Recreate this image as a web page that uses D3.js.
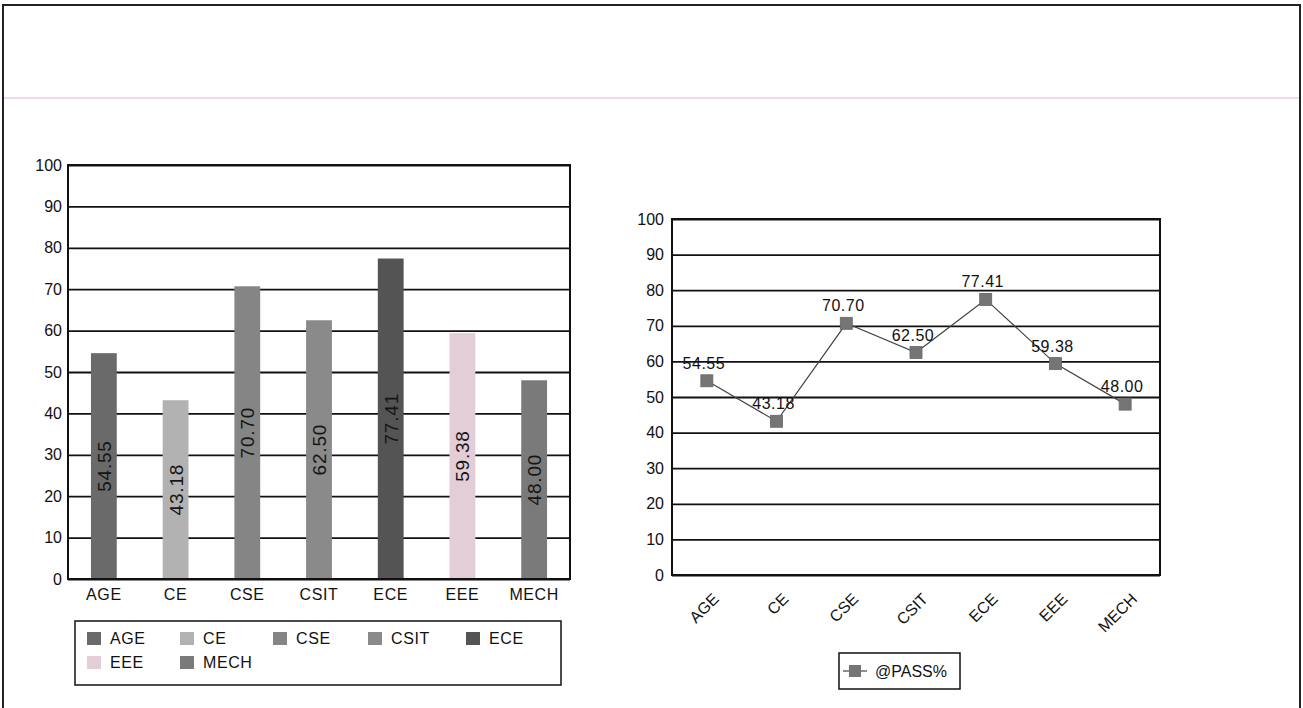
<!DOCTYPE html>
<html><head><meta charset="utf-8">
<script src="https://cdn.jsdelivr.net/npm/d3@7"></script>
<style>
body{margin:0;background:#fff;}
svg{display:block;font-family:"Liberation Sans",Arial,sans-serif;}
</style></head>
<body>
<svg id="c" width="1303" height="708"></svg>
<script>
const categories = ["AGE","CE","CSE","CSIT","ECE","EEE","MECH"];
const passValues = [54.55,43.18,70.70,62.50,77.41,59.38,48.00];
const yTicks = [0,10,20,30,40,50,60,70,80,90,100];
const barColors = ["#6a6a6a","#b2b2b2","#858585","#8a8a8a","#545454","#e3cdd6","#7a7a7a"];
const seriesName = "@PASS%";

const FONT = "Liberation Sans, Arial, sans-serif";
const svg = d3.select("#c");
// outer frame
svg.append("rect").attr("x",3).attr("y",5).attr("width",1297).attr("height",706)
  .attr("fill","#fff").attr("stroke","#222").attr("stroke-width",2);
svg.append("line").attr("x1",4).attr("x2",1299).attr("y1",98).attr("y2",98)
  .attr("stroke","#f0c8e8").attr("stroke-width",1.5);

// ---------- Left bar chart ----------
const L = {x0:68, x1:570, y0:165, y1:579};
const xb = d3.scaleBand().domain(categories).range([L.x0,L.x1]).paddingInner(0.64).paddingOuter(0.32);
const yb = d3.scaleLinear().domain([0,100]).range([L.y1,L.y0]);
const gL = svg.append("g");
gL.append("g").attr("transform",`translate(${L.x0},0)`)
  .call(d3.axisLeft(yb).tickValues(yTicks).tickSize(-(L.x1-L.x0)).tickPadding(6))
  .call(g=>{g.select(".domain").remove();
    g.selectAll(".tick line").attr("stroke","#111").attr("stroke-width",1.8);
    g.selectAll(".tick text").attr("font-size",16).attr("fill","#111").attr("font-family",FONT);});
gL.selectAll("rect.bar").data(categories).join("rect").attr("class","bar")
  .attr("x",d=>xb(d)).attr("width",xb.bandwidth())
  .attr("y",(d,i)=>yb(passValues[i])).attr("height",(d,i)=>yb(0)-yb(passValues[i]))
  .attr("fill",(d,i)=>barColors[i]);
gL.selectAll("text.vl").data(categories).join("text").attr("class","vl")
  .attr("transform",(d,i)=>`translate(${xb(d)+xb.bandwidth()/2+7},${(yb(passValues[i])+yb(0))/2}) rotate(-90)`)
  .attr("text-anchor","middle").attr("font-size",19).attr("letter-spacing",0.8).attr("fill","#151515")
  .text((d,i)=>passValues[i].toFixed(2));
gL.append("rect").attr("x",L.x0).attr("y",L.y0).attr("width",L.x1-L.x0).attr("height",L.y1-L.y0)
  .attr("fill","none").attr("stroke","#111").attr("stroke-width",2);
gL.append("g").attr("transform",`translate(0,${L.y1})`)
  .call(d3.axisBottom(xb).tickSize(0).tickPadding(10))
  .call(g=>{g.select(".domain").remove();
    g.selectAll(".tick text").attr("font-size",16).attr("letter-spacing",0.6).attr("fill","#111").attr("font-family",FONT);});
// legend
const lg = svg.append("g");
lg.append("rect").attr("x",75).attr("y",621).attr("width",486).attr("height",64)
  .attr("fill","#fff").attr("stroke","#111").attr("stroke-width",1.5);
const legPos = [[87,631],[180,631],[273,631],[368,631],[466,631],[87,655],[180,655]];
categories.forEach((c,i)=>{
  lg.append("rect").attr("x",legPos[i][0]).attr("y",legPos[i][1]+1).attr("width",14).attr("height",13).attr("fill",barColors[i]);
  lg.append("text").attr("x",legPos[i][0]+23).attr("y",legPos[i][1]+13).attr("font-size",16).attr("letter-spacing",0.6).attr("fill","#111").text(c);
});

// ---------- Right line chart ----------
const R = {x0:672, x1:1160, y0:219, y1:575};
const xl = d3.scaleBand().domain(categories).range([R.x0,R.x1]);
const yl = d3.scaleLinear().domain([0,100]).range([R.y1,R.y0]);
const gR = svg.append("g");
gR.append("g").attr("transform",`translate(${R.x0},0)`)
  .call(d3.axisLeft(yl).tickValues(yTicks).tickSize(-(R.x1-R.x0)).tickPadding(8))
  .call(g=>{g.select(".domain").remove();
    g.selectAll(".tick line").attr("stroke","#111").attr("stroke-width",1.8);
    g.selectAll(".tick text").attr("font-size",16).attr("fill","#111").attr("font-family",FONT);});
gR.append("rect").attr("x",R.x0).attr("y",R.y0).attr("width",R.x1-R.x0).attr("height",R.y1-R.y0)
  .attr("fill","none").attr("stroke","#111").attr("stroke-width",2);
const line = d3.line().x((d,i)=>xl(categories[i])+xl.bandwidth()/2).y(d=>yl(d));
gR.append("path").datum(passValues).attr("d",line).attr("fill","none").attr("stroke","#444").attr("stroke-width",1.2);
gR.selectAll("rect.pt").data(passValues).join("rect").attr("class","pt")
  .attr("x",(d,i)=>xl(categories[i])+xl.bandwidth()/2-6).attr("y",d=>yl(d)-6)
  .attr("width",12).attr("height",12).attr("fill","#757575").attr("stroke","#666").attr("stroke-width",0.8);
gR.selectAll("text.pl").data(passValues).join("text").attr("class","pl")
  .attr("x",(d,i)=>xl(categories[i])+xl.bandwidth()/2-3).attr("y",d=>yl(d)-12)
  .attr("text-anchor","middle").attr("font-size",16).attr("letter-spacing",0.5).attr("fill","#111")
  .text(d=>d.toFixed(2));
gR.append("g").attr("transform",`translate(0,${R.y1})`)
  .call(d3.axisBottom(xl).tickSize(0).tickPadding(0))
  .call(g=>{g.select(".domain").remove();
    g.selectAll(".tick text").attr("font-size",16).attr("fill","#111").attr("font-family",FONT)
      .attr("text-anchor","end").attr("dy",0).attr("transform","translate(13,25) rotate(-45)");});
// legend
const lr = svg.append("g");
lr.append("rect").attr("x",839).attr("y",653).attr("width",121).attr("height",36)
  .attr("fill","#fff").attr("stroke","#111").attr("stroke-width",1.5);
lr.append("line").attr("x1",843).attr("x2",867).attr("y1",671).attr("y2",671).attr("stroke","#444").attr("stroke-width",1.2);
lr.append("rect").attr("x",849).attr("y",665).attr("width",12).attr("height",12).attr("fill","#757575");
lr.append("text").attr("x",875).attr("y",677).attr("font-size",16).attr("fill","#111").text(seriesName);
</script>
</body></html>
